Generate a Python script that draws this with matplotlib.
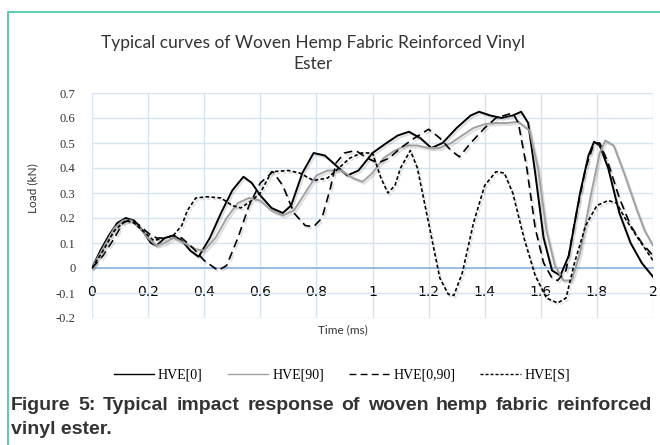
import matplotlib
matplotlib.use("Agg")
import matplotlib.pyplot as plt
import matplotlib.patheffects as pe
from matplotlib.lines import Line2D
from matplotlib.patches import Rectangle

# ---- data (time in ms, load in kN) ----
t_hve0 = [0.00, 0.03, 0.06, 0.09, 0.12, 0.15, 0.18, 0.21, 0.23, 0.26, 0.29, 0.32, 0.35, 0.38,
          0.42, 0.46, 0.50, 0.54, 0.57, 0.60, 0.64, 0.68, 0.71, 0.75, 0.79, 0.83, 0.87, 0.91,
          0.95, 1.00, 1.05, 1.09, 1.13, 1.17, 1.21, 1.25, 1.30, 1.35, 1.38, 1.42, 1.46, 1.50,
          1.53, 1.555, 1.58, 1.61, 1.64, 1.67, 1.70, 1.74, 1.77, 1.79, 1.81, 1.84, 1.88, 1.92,
          1.96, 2.00]
load_hve0 = [0.00, 0.07, 0.13, 0.18, 0.20, 0.19, 0.15, 0.10, 0.09, 0.12, 0.13, 0.11, 0.07, 0.045,
             0.12, 0.22, 0.31, 0.365, 0.34, 0.29, 0.24, 0.22, 0.25, 0.38, 0.46, 0.45, 0.41, 0.37,
             0.39, 0.46, 0.50, 0.53, 0.545, 0.52, 0.48, 0.50, 0.56, 0.61, 0.625, 0.61, 0.60, 0.61,
             0.625, 0.58, 0.38, 0.12, -0.01, -0.03, 0.05, 0.30, 0.45, 0.505, 0.49, 0.40, 0.22, 0.10,
             0.02, -0.035]

t_hve90 = [0.00, 0.04, 0.08, 0.11, 0.14, 0.17, 0.20, 0.23, 0.26, 0.29, 0.33, 0.37, 0.40, 0.44,
           0.48, 0.52, 0.56, 0.60, 0.64, 0.68, 0.72, 0.76, 0.80, 0.84, 0.89, 0.93, 0.965, 1.00,
           1.04, 1.08, 1.12, 1.16, 1.20, 1.24, 1.28, 1.32, 1.36, 1.40, 1.44, 1.48, 1.52, 1.56,
           1.59, 1.62, 1.65, 1.68, 1.71, 1.74, 1.78, 1.81, 1.83, 1.86, 1.90, 1.94, 1.97, 2.00]
load_hve90 = [0.00, 0.08, 0.16, 0.19, 0.19, 0.16, 0.12, 0.09, 0.10, 0.12, 0.10, 0.075, 0.07, 0.12,
              0.20, 0.26, 0.28, 0.27, 0.23, 0.21, 0.23, 0.30, 0.37, 0.39, 0.39, 0.36, 0.345, 0.38,
              0.44, 0.47, 0.49, 0.49, 0.48, 0.48, 0.50, 0.53, 0.56, 0.575, 0.58, 0.58, 0.585, 0.55,
              0.40, 0.15, 0.01, -0.05, -0.05, 0.06, 0.30, 0.46, 0.51, 0.49, 0.37, 0.24, 0.15, 0.09]

t_hve090 = [0.00, 0.04, 0.08, 0.11, 0.14, 0.17, 0.20, 0.23, 0.26, 0.29, 0.32, 0.36, 0.40, 0.45,
            0.48, 0.52, 0.56, 0.60, 0.645, 0.68, 0.72, 0.76, 0.79, 0.82, 0.85, 0.87, 0.90, 0.94,
            0.98, 1.02, 1.06, 1.10, 1.15, 1.20, 1.24, 1.28, 1.31, 1.35, 1.40, 1.44, 1.47, 1.50,
            1.52, 1.55, 1.58, 1.61, 1.64, 1.66, 1.69, 1.72, 1.76, 1.79, 1.81, 1.84, 1.88, 1.92,
            1.96, 2.00]
load_hve090 = [0.00, 0.05, 0.12, 0.18, 0.195, 0.17, 0.14, 0.12, 0.12, 0.13, 0.12, 0.08, 0.03, -0.01,
               0.01, 0.12, 0.25, 0.34, 0.385, 0.33, 0.22, 0.17, 0.165, 0.20, 0.32, 0.42, 0.46, 0.47,
               0.44, 0.42, 0.44, 0.48, 0.52, 0.555, 0.52, 0.47, 0.445, 0.50, 0.56, 0.60, 0.61, 0.62,
               0.58, 0.40, 0.16, 0.02, -0.04, -0.05, -0.01, 0.18, 0.40, 0.50, 0.50, 0.42, 0.28, 0.17,
               0.10, 0.05]

t_hves = [0.00, 0.04, 0.08, 0.12, 0.15, 0.18, 0.22, 0.26, 0.29, 0.32, 0.34, 0.37, 0.41, 0.46,
          0.50, 0.53, 0.57, 0.60, 0.64, 0.70, 0.74, 0.79, 0.84, 0.88, 0.92, 0.96, 1.00, 1.03,
          1.055, 1.08, 1.10, 1.135, 1.16, 1.20, 1.24, 1.27, 1.29, 1.32, 1.36, 1.40, 1.44, 1.47,
          1.50, 1.54, 1.58, 1.62, 1.66, 1.69, 1.72, 1.76, 1.80, 1.84, 1.87, 1.90, 1.94, 1.97,
          2.00]
load_hves = [0.00, 0.07, 0.15, 0.19, 0.18, 0.15, 0.11, 0.12, 0.13, 0.17, 0.23, 0.28, 0.285, 0.28,
             0.25, 0.24, 0.27, 0.30, 0.385, 0.39, 0.38, 0.35, 0.36, 0.40, 0.44, 0.46, 0.46, 0.36,
             0.30, 0.33, 0.40, 0.47, 0.40, 0.18, -0.04, -0.105, -0.11, -0.02, 0.18, 0.33, 0.385, 0.38,
             0.30, 0.12, -0.03, -0.12, -0.14, -0.12, 0.02, 0.17, 0.25, 0.27, 0.26, 0.20, 0.13, 0.08,
             0.03]

series_names = ["HVE[0]", "HVE[90]", "HVE[0,90]", "HVE[S]"]
x_ticks = [0, 0.2, 0.4, 0.6, 0.8, 1.0, 1.2, 1.4, 1.6, 1.8, 2.0]
x_tick_labels = ["0", "0.2", "0.4", "0.6", "0.8", "1", "1.2", "1.4", "1.6", "1.8", "2"]
y_ticks = [-0.2, -0.1, 0, 0.1, 0.2, 0.3, 0.4, 0.5, 0.6, 0.7]
y_tick_labels = ["-0.2", "-0.1", "0", "0.1", "0.2", "0.3", "0.4", "0.5", "0.6", "0.7"]
caption_1 = "Figure 5: Typical impact response of woven hemp fabric reinforced"
caption_2 = "vinyl ester."

SANS = ["Liberation Sans Narrow", "Lato", "DejaVu Sans"]
SERIF = ["Liberation Serif", "DejaVu Serif"]
W, H = 660, 445

fig = plt.figure(figsize=(6.6, 4.45), dpi=100)

# teal frame around the figure panel (open to the right / bottom)
fig.patches.append(Rectangle((8 / W, -0.1), 1.2, 1 - 12 / H + 0.1,
                             transform=fig.transFigure, fill=False,
                             edgecolor="#55c7ad", linewidth=1.3))

ax = fig.add_axes([92 / W, 1 - 318 / H, (653 - 92) / W, (318 - 93) / H])

shadow = [pe.SimpleLineShadow(offset=(1.2, -1.5), shadow_color="0.5", alpha=0.25),
          pe.Normal()]
styles = [
    dict(color="black", lw=1.4, ls="-"),
    dict(color="#a0a0a0", lw=1.4, ls="-"),
    dict(color="black", lw=1.2, ls=(0, (5, 3))),
    dict(color="black", lw=1.2, ls=(0, (2.2, 1.4))),
]
data = [(t_hve0, load_hve0), (t_hve90, load_hve90), (t_hve090, load_hve090), (t_hves, load_hves)]
for (t, y), st, name in zip(data, styles, series_names):
    ax.plot(t, y, label=name, path_effects=shadow, zorder=3, **st)

ax.set_xlim(0, 2)
ax.set_ylim(-0.2, 0.7)
ax.set_xticks(x_ticks)
ax.set_xticklabels(x_tick_labels, family=SERIF, fontsize=9, color="#333333")
ax.set_yticks(y_ticks)
ax.set_yticklabels(y_tick_labels, family=SERIF, fontsize=9, color="#333333")
ax.tick_params(axis="both", length=0)
ax.tick_params(axis="x", pad=12)
ax.tick_params(axis="y", pad=12)
ax.grid(True, color="#d6e3f3", linewidth=1.0, zorder=0)
for side in ["top", "right", "left"]:
    ax.spines[side].set_visible(False)
ax.spines["bottom"].set_position(("data", 0))
ax.spines["bottom"].set_color("#8db3e2")
ax.spines["bottom"].set_linewidth(1.2)

# title and axis titles
fig.text(313 / W, 1 - 43 / H, "Typical curves of Woven Hemp Fabric Reinforced Vinyl",
         ha="center", va="center", family=SANS, fontsize=12.5, color="#333333")
fig.text(313 / W, 1 - 64 / H, "Ester",
         ha="center", va="center", family=SANS, fontsize=12.5, color="#333333")
fig.text(343 / W, 1 - 330 / H, "Time (ms)", ha="center", va="center",
         family=SANS, fontsize=8.5, color="#333333")
fig.text(33 / W, 1 - 188 / H, "Load (kN)", ha="center", va="center", rotation=90,
         family=SANS, fontsize=8.5, color="#333333")

# legend
handles = [Line2D([], [], **st) for st in styles]
for h in handles:
    h.set_linewidth(1.0)
fig.legend(handles, series_names, loc="center", bbox_to_anchor=(342 / W, 1 - 375 / H),
           ncol=4, frameon=False, handlelength=2.9, columnspacing=1.8, handletextpad=0.3,
           prop={"family": SERIF, "size": 10})

# figure caption, first line justified between the frame margins
cap_kw = dict(family="Liberation Sans", weight="bold", fontsize=14, color="#333333",
              va="center", ha="left")
left_px, right_px = 11, 652
renderer = fig.canvas.get_renderer()
words = caption_1.split()
texts = [fig.text(0, 1 - 405 / H, w, **cap_kw) for w in words]
widths = [t.get_window_extent(renderer).width for t in texts]
gap = (right_px - left_px - sum(widths)) / (len(words) - 1)
x = left_px
for t, w in zip(texts, widths):
    t.set_x(x / W)
    x += w + gap
fig.text(left_px / W, 1 - 429 / H, caption_2, **cap_kw)

fig.savefig("out.png", dpi=100)
